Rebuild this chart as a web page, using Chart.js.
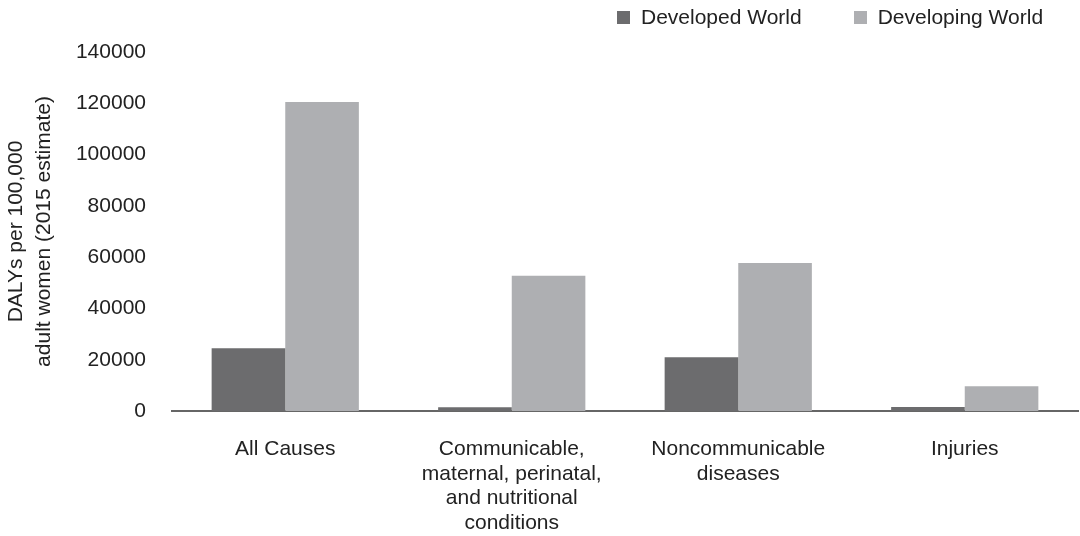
<!DOCTYPE html>
<html>
<head>
<meta charset="utf-8">
<script src="https://cdn.jsdelivr.net/npm/chart.js@4"></script>
<style>
  body { margin: 0; background: #fff; }
  #wrap { position: relative; width: 1080px; height: 536px; }
  #legend {
    position: absolute; top: 5px; left: 617px;
    display: flex; font-family: "Liberation Sans", Arial, sans-serif;
    font-size: 21px; color: #222; line-height: 24px;
  }
  #legend span.item { display: flex; align-items: center; margin-right: 52px; }
  #legend span.item:last-child { margin-right: 0; }
  #legend i { display: inline-block; width: 13px; height: 13px; margin-right: 11px; }
</style>
</head>
<body>
<div id="wrap">
  <canvas id="grafico" width="1080" height="536"></canvas>
  <div id="legend"></div>
</div>
<script>
var categorias = [
    'All Causes',
    ['Communicable,', 'maternal, perinatal,', 'and nutritional', 'conditions'],
    ['Noncommunicable', 'diseases'],
    'Injuries'
];
var desarrollado = [24500, 1500, 21000, 1600];
var enDesarrollo = [120500, 52700, 57700, 9700];
var series = ['Developed World', 'Developing World'];
var colores = ['#6c6c6e', '#aeafb2'];
var ticksY = [0, 20000, 40000, 60000, 80000, 100000, 120000, 140000];

// leyenda en html
var leyenda = document.getElementById('legend');
series.forEach(function (nombre, i) {
    var item = document.createElement('span');
    item.className = 'item';
    item.innerHTML = '<i style="background:' + colores[i] + '"></i>' + nombre;
    leyenda.appendChild(item);
});

Chart.defaults.font.family = '"Liberation Sans", Arial, sans-serif';
Chart.defaults.font.size = 21;
Chart.defaults.color = '#222';

var ctx = document.getElementById('grafico').getContext('2d');
new Chart(ctx, {
    type: 'bar',
    data: {
        labels: categorias,
        datasets: [{
            label: series[0],
            data: desarrollado,
            backgroundColor: colores[0]
        }, {
            label: series[1],
            data: enDesarrollo,
            backgroundColor: colores[1]
        }]
    },
    options: {
        responsive: false,
        animation: false,
        layout: { padding: { top: 52, right: 2, left: 0, bottom: 0 } },
        datasets: { bar: { categoryPercentage: 0.65, barPercentage: 1.0 } },
        plugins: {
            legend: { display: false },
            tooltip: { enabled: false }
        },
        scales: {
            x: {
                grid: { display: false },
                border: { display: true, color: '#666', width: 2 },
                ticks: { padding: 18, maxRotation: 0, font: { lineHeight: 1.17 } },
                afterFit: function (scale) { scale.height = 125; }
            },
            y: {
                min: 0,
                max: 140000,
                grid: { display: false },
                border: { display: false },
                afterBuildTicks: function (scale) {
                    scale.ticks = ticksY.map(function (v) { return { value: v }; });
                },
                ticks: {
                    padding: 18,
                    callback: function (v) { return String(v); }
                },
                title: {
                    display: true,
                    text: ['DALYs per 100,000', 'adult women (2015 estimate)'],
                    font: { size: 21, lineHeight: 1.3 },
                    padding: { top: 3, bottom: 0 }
                },
                afterFit: function (scale) { scale.width = 172; }
            }
        }
    }
});
</script>
</body>
</html>
